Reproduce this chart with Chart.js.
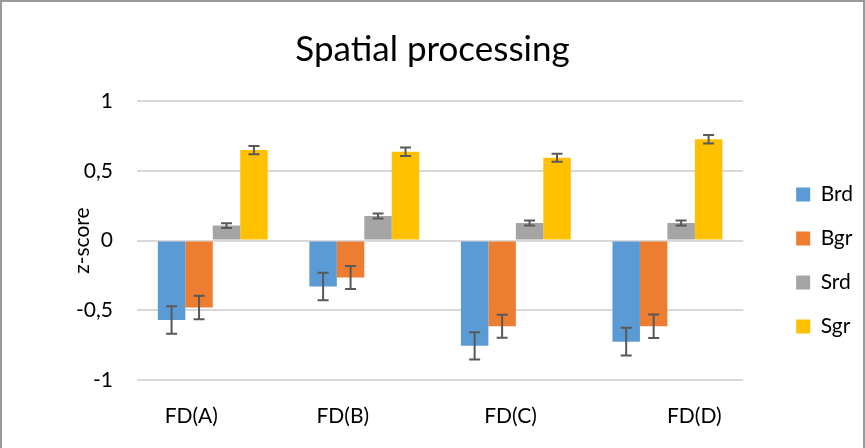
<!DOCTYPE html>
<html>

<head>
    <meta charset="utf-8">
    <title>Spatial processing</title>
    <script src="https://cdn.jsdelivr.net/npm/chart.js@4.4.6/dist/chart.umd.min.js"></script>
    <style>
        html, body { margin: 0; padding: 0; background: #fff; }
        #wrap {
            width: 861px;
            height: 446px;
            border: 2px solid #9a9a9a;
            border-bottom: none;
            position: relative;
        }
    </style>
</head>

<body>
    <div id="wrap">
        <canvas id="myChart1"></canvas>
    </div>
    <script>
        const categories = ["FD(A)", "FD(B)", "FD(C)", "FD(D)"]
        // tick labels as drawn (padded, the labels sit off-centre in the original)
        const xTickLabels = ["FD(A)        ", "FD(B)        ", "FD(C)  ", "          FD(D)"]
        const yTicks = [-1, -0.5, 0, 0.5, 1]

        const brd = [-0.57, -0.33, -0.755, -0.725]
        const bgr = [-0.48, -0.265, -0.615, -0.615]
        const srd = [0.107, 0.176, 0.126, 0.126]
        const sgr = [0.648, 0.636, 0.593, 0.726]

        const brdErr = [0.098, 0.098, 0.098, 0.099]
        const bgrErr = [0.084, 0.083, 0.083, 0.084]
        const srdErr = [0.017, 0.018, 0.018, 0.018]
        const sgrErr = [0.029, 0.030, 0.029, 0.031]

        const COLORS = {
            blue: "#5B9BD5",
            orange: "#ED7D31",
            grey: "#A5A5A5",
            yellow: "#FFC000",
        }
        const FONT = "Lato, 'Open Sans', sans-serif"

        const errorBars = {
            id: "errorBars",
            afterDatasetsDraw(chart) {
                const ctx = chart.ctx
                const y = chart.scales.y
                ctx.save()
                ctx.strokeStyle = "#595959"
                ctx.lineWidth = 2
                chart.data.datasets.forEach((ds, i) => {
                    const meta = chart.getDatasetMeta(i)
                    if (!chart.isDatasetVisible(i)) return
                    meta.data.forEach((bar, j) => {
                        const v = ds.data[j]
                        const e = ds.errors[j]
                        const top = y.getPixelForValue(v + e)
                        const bot = y.getPixelForValue(v - e)
                        const x = bar.x
                        const w = 5.5
                        ctx.beginPath()
                        ctx.moveTo(x, top)
                        ctx.lineTo(x, bot)
                        ctx.moveTo(x - w, top)
                        ctx.lineTo(x + w, top)
                        ctx.moveTo(x - w, bot)
                        ctx.lineTo(x + w, bot)
                        ctx.stroke()
                    })
                })
                ctx.restore()
            },
        }

        function makeSet(label, data, errors, color) {
            return {
                label: label,
                data: data,
                errors: errors,
                backgroundColor: color,
                borderWidth: 0,
                barPercentage: 1,
                categoryPercentage: 0.725,
            }
        }

        const config = {
            type: "bar",
            data: {
                labels: categories,
                datasets: [
                    makeSet("Brd", brd, brdErr, COLORS.blue),
                    makeSet("Bgr", bgr, bgrErr, COLORS.orange),
                    makeSet("Srd", srd, srdErr, COLORS.grey),
                    makeSet("Sgr", sgr, sgrErr, COLORS.yellow),
                ],
            },
            options: {
                responsive: true,
                maintainAspectRatio: false,
                animation: false,
                layout: {
                    padding: { left: 0, right: 0, top: 0, bottom: 5 },
                },
                plugins: {
                    title: {
                        display: true,
                        text: "Spatial processing",
                        color: "#000",
                        font: { family: FONT, size: 35, weight: "normal" },
                        padding: { top: 27, bottom: 30 },
                    },
                    legend: {
                        position: "right",
                        fullSize: false,
                        title: {
                            display: true,
                            text: "",
                            font: { size: 10 },
                            padding: { top: 28, bottom: 0 },
                        },
                        labels: {
                            color: "#000",
                            font: { family: FONT, size: 21 },
                            boxWidth: 14,
                            boxHeight: 14,
                            padding: 23,
                        },
                    },
                    tooltip: { enabled: false },
                },
                scales: {
                    x: {
                        grid: { display: false, drawTicks: false },
                        border: { display: false },
                        afterFit: axis => {
                            axis.height = 63
                        },
                        ticks: {
                            color: "#000",
                            font: { family: FONT, size: 21 },
                            padding: 24,
                            callback: (val, i) => xTickLabels[i],
                        },
                    },
                    y: {
                        min: -1,
                        max: 1,
                        afterBuildTicks: axis => {
                            axis.ticks = yTicks.map(v => ({ value: v }))
                        },
                        afterFit: axis => {
                            axis.width = 135
                        },
                        grid: { color: "#D9D9D9", lineWidth: 2, drawTicks: false },
                        border: { display: false },
                        ticks: {
                            color: "#000",
                            font: { family: FONT, size: 21 },
                            padding: 24,
                            callback: v => String(v).replace(".", ","),
                        },
                        title: {
                            display: true,
                            text: "z-score",
                            color: "#000",
                            font: { family: FONT, size: 21 },
                            padding: { top: 68, bottom: 0 },
                        },
                    },
                    // empty spacer between plot and legend
                    gap: {
                        position: "right",
                        display: true,
                        grid: { display: false, drawTicks: false },
                        border: { display: false },
                        ticks: { display: false },
                        afterFit: axis => {
                            axis.width = 30
                        },
                    },
                },
            },
            plugins: [errorBars],
        }
        new Chart(document.getElementById("myChart1"), config)
    </script>
</body>

</html>
